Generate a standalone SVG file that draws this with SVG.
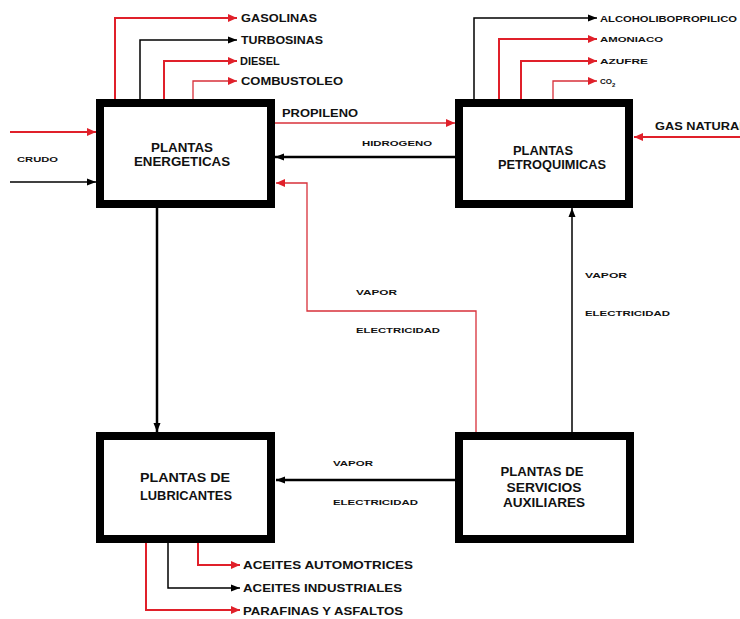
<svg xmlns="http://www.w3.org/2000/svg" width="740" height="619" viewBox="0 0 740 619">
  <style>
    .box { fill: #ffffff; stroke: #000000; stroke-width: 8; }
    .btxt { font-family: "Liberation Sans", Arial, sans-serif; font-weight: bold; font-size: 12.5px; fill: #111111; text-anchor: middle; }
    .lbl { font-family: "Liberation Sans", Arial, sans-serif; font-weight: bold; font-size: 11px; fill: #111111; }
    .sm { font-family: "Liberation Sans", Arial, sans-serif; font-weight: bold; font-size: 8px; fill: #111111; }
    .red { fill: none; stroke: #e0202a; stroke-width: 2; }
    .redthin { fill: none; stroke: #d8303a; stroke-width: 1.3; }
    .blk { fill: none; stroke: #000000; stroke-width: 1.5; }
    .blkthick { fill: none; stroke: #000000; stroke-width: 2.5; }
  </style>
  <defs>
    <marker id="ar" markerUnits="userSpaceOnUse" markerWidth="10" markerHeight="8" refX="9" refY="4" orient="auto">
      <path d="M0,0 L9,4 L0,8 z" fill="#e0202a"/>
    </marker>
    <marker id="ab" markerUnits="userSpaceOnUse" markerWidth="10" markerHeight="8" refX="9" refY="4" orient="auto">
      <path d="M0,0.5 L9,4 L0,7.5 z" fill="#000000"/>
    </marker>
  </defs>

  <rect width="740" height="619" fill="#ffffff"/>

  <!-- connectors -->
  <g id="connectors">
    <!-- energeticas outputs -->
    <polyline class="red" points="115,99 115,18 237,18" marker-end="url(#ar)"/>
    <polyline class="blk" points="140,99 140,40 237,40" marker-end="url(#ab)"/>
    <polyline class="red" points="164,99 164,61 237,61" marker-end="url(#ar)"/>
    <polyline class="redthin" points="193,99 193,81 237,81" marker-end="url(#ar)"/>
    <!-- petroquimicas outputs -->
    <polyline class="blk" points="474,99 474,18 597,18" marker-end="url(#ab)"/>
    <polyline class="red" points="499,99 499,39 597,39" marker-end="url(#ar)"/>
    <polyline class="red" points="521,99 521,61 597,61" marker-end="url(#ar)"/>
    <polyline class="redthin" points="553,99 553,81 597,81" marker-end="url(#ar)"/>
    <!-- crudo inputs -->
    <line class="red" x1="10" y1="132" x2="96" y2="132" marker-end="url(#ar)"/>
    <line class="blk" x1="10" y1="182" x2="96" y2="182" marker-end="url(#ab)"/>
    <!-- propileno / hidrogeno -->
    <line class="redthin" x1="275" y1="123" x2="455" y2="123" marker-end="url(#ar)"/>
    <line class="blkthick" x1="455" y1="157" x2="275" y2="157" marker-end="url(#ab)"/>
    <!-- gas natural -->
    <line class="red" x1="740" y1="137" x2="634" y2="137" marker-end="url(#ar)"/>
    <!-- vapor / electricidad to energeticas -->
    <polyline class="redthin" points="476,432 476,311 307,311 307,183 276,183" marker-end="url(#ar)"/>
    <!-- energeticas to lubricantes -->
    <line class="blkthick" x1="157" y1="208" x2="157" y2="432" marker-end="url(#ab)"/>
    <!-- servicios to petroquimicas -->
    <line class="blk" x1="572" y1="432" x2="572" y2="208" marker-end="url(#ab)"/>
    <!-- servicios to lubricantes -->
    <line class="blkthick" x1="455" y1="480" x2="276" y2="480" marker-end="url(#ab)"/>
    <!-- lubricantes outputs -->
    <polyline class="red" points="198,543 198,565 240,565" marker-end="url(#ar)"/>
    <polyline class="blk" points="168,543 168,588 240,588" marker-end="url(#ab)"/>
    <polyline class="red" points="146,543 146,610 240,610" marker-end="url(#ar)"/>
  </g>

  <!-- nodes -->
  <g id="energeticas">
    <rect class="box" x="100" y="103" width="171" height="101"/>
    <text class="btxt" x="182" y="152" textLength="62" lengthAdjust="spacingAndGlyphs">PLANTAS</text>
    <text class="btxt" x="182" y="166" textLength="96" lengthAdjust="spacingAndGlyphs">ENERGETICAS</text>
  </g>
  <g id="petroquimicas">
    <rect class="box" x="459" y="103" width="170" height="101"/>
    <text class="btxt" x="543" y="155" textLength="60" lengthAdjust="spacingAndGlyphs">PLANTAS</text>
    <text class="btxt" x="552" y="169" textLength="108" lengthAdjust="spacingAndGlyphs">PETROQUIMICAS</text>
  </g>
  <g id="lubricantes">
    <rect class="box" x="100" y="436" width="171" height="103"/>
    <text class="btxt" x="185" y="482" textLength="90" lengthAdjust="spacingAndGlyphs">PLANTAS  DE</text>
    <text class="btxt" x="186" y="500" textLength="92" lengthAdjust="spacingAndGlyphs">LUBRICANTES</text>
  </g>
  <g id="servicios">
    <rect class="box" x="459" y="436" width="171" height="103"/>
    <text class="btxt" x="542" y="476" textLength="83" lengthAdjust="spacingAndGlyphs">PLANTAS DE</text>
    <text class="btxt" x="544" y="492" textLength="75" lengthAdjust="spacingAndGlyphs">SERVICIOS</text>
    <text class="btxt" x="544" y="507" textLength="82" lengthAdjust="spacingAndGlyphs">AUXILIARES</text>
  </g>

  <!-- labels -->
  <g id="labels">
    <text class="lbl" x="241" y="22" textLength="76" lengthAdjust="spacingAndGlyphs">GASOLINAS</text>
    <text class="lbl" x="241" y="44" textLength="82" lengthAdjust="spacingAndGlyphs">TURBOSINAS</text>
    <text class="lbl" x="240" y="65">DIESEL</text>
    <text class="lbl" x="241" y="85" textLength="102" lengthAdjust="spacingAndGlyphs">COMBUSTOLEO</text>

    <text class="lbl" style="font-size:9.5px" x="600" y="21.5" textLength="137" lengthAdjust="spacingAndGlyphs">ALCOHOLIBOPROPILICO</text>
    <text class="sm" x="600" y="42" textLength="63" lengthAdjust="spacingAndGlyphs">AMONIACO</text>
    <text class="sm" x="600" y="64" textLength="48" lengthAdjust="spacingAndGlyphs">AZUFRE</text>
    <text class="sm" x="600" y="84">CO<tspan font-size="6" dy="3">2</tspan></text>

    <text class="sm" x="17" y="162" textLength="41" lengthAdjust="spacingAndGlyphs">CRUDO</text>
    <text class="lbl" x="282" y="117" textLength="76" lengthAdjust="spacingAndGlyphs">PROPILENO</text>
    <text class="sm" x="362" y="146" textLength="70" lengthAdjust="spacingAndGlyphs">HIDROGENO</text>
    <text class="lbl" x="655" y="130" textLength="92" lengthAdjust="spacingAndGlyphs">GAS NATURAL</text>

    <text class="sm" x="356" y="295" textLength="41" lengthAdjust="spacingAndGlyphs">VAPOR</text>
    <text class="sm" x="356" y="333" textLength="84" lengthAdjust="spacingAndGlyphs">ELECTRICIDAD</text>
    <text class="sm" x="585" y="278" textLength="42" lengthAdjust="spacingAndGlyphs">VAPOR</text>
    <text class="sm" x="585" y="316" textLength="85" lengthAdjust="spacingAndGlyphs">ELECTRICIDAD</text>
    <text class="sm" x="333" y="466" textLength="40" lengthAdjust="spacingAndGlyphs">VAPOR</text>
    <text class="sm" x="333" y="505" textLength="85" lengthAdjust="spacingAndGlyphs">ELECTRICIDAD</text>

    <text class="lbl" x="243" y="569" textLength="170" lengthAdjust="spacingAndGlyphs">ACEITES AUTOMOTRICES</text>
    <text class="lbl" x="243" y="592" textLength="159" lengthAdjust="spacingAndGlyphs">ACEITES INDUSTRIALES</text>
    <text class="lbl" x="243" y="615" textLength="160" lengthAdjust="spacingAndGlyphs">PARAFINAS Y ASFALTOS</text>
  </g>
</svg>
